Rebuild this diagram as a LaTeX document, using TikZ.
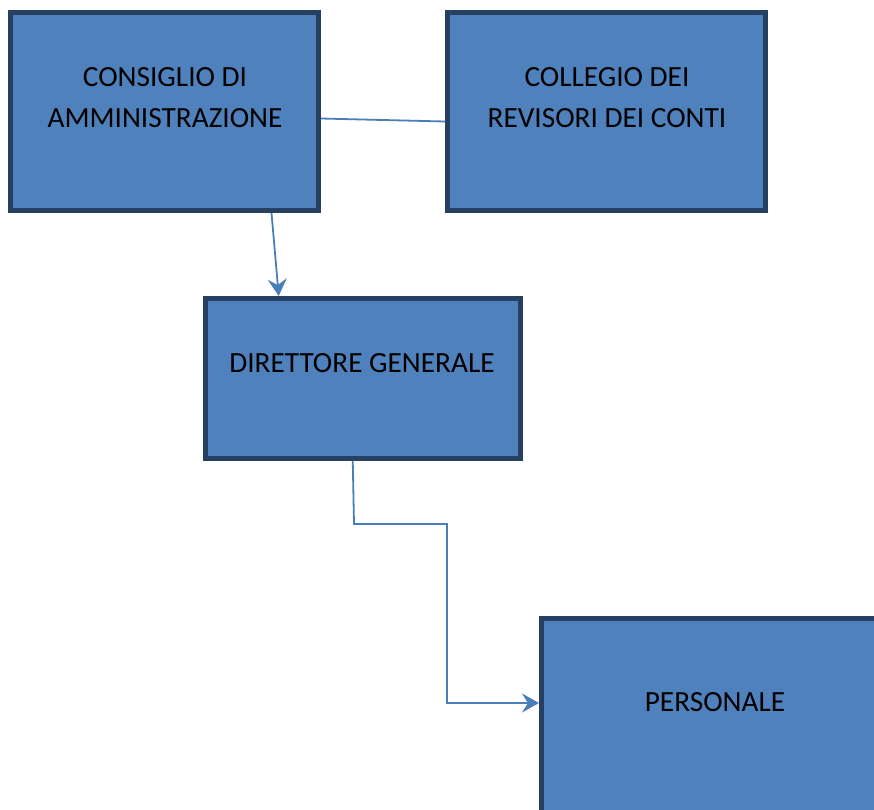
\documentclass[tikz,border=0pt]{standalone}
\usepackage{fontspec}
\setmainfont{Carlito}
\usetikzlibrary{arrows.meta}
\definecolor{boxfill}{HTML}{4F81BD}
\definecolor{boxline}{HTML}{254061}
\definecolor{linkcol}{HTML}{4A7EBB}
\begin{document}
\begin{tikzpicture}[x=1pt,y=-1pt,
    orgbox/.style={draw=boxline, fill=boxfill, line width=5pt},
    orgtext/.style={align=center, inner sep=0pt, font=\fontsize{29.3}{41}\selectfont},
    link/.style={draw=linkcol, line width=1.8pt},
    linkarrow/.style={link, -{Stealth[length=17pt,width=19pt,inset=6pt]}}]
  \useasboundingbox (0,0) rectangle (874,809);
  \path[orgbox] (10.5,12.5) rectangle (318.5,210.5) node[pos=0.5, inner sep=0pt, minimum width=308pt, minimum height=198pt] (cda) {};
  \node[orgtext] (cdaT) at (165,98) {CONSIGLIO DI\\AMMINISTRAZIONE};
  \path[orgbox] (447.5,12.5) rectangle (765.5,210.5) node[pos=0.5, inner sep=0pt, minimum width=318pt, minimum height=198pt] (crc) {};
  \node[orgtext] (crcT) at (607,98) {COLLEGIO DEI\\REVISORI DEI CONTI};
  \path[orgbox] (205.5,298.5) rectangle (520,458) node[pos=0.5, inner sep=0pt, minimum width=314.5pt, minimum height=159.5pt] (dg) {};
  \node[orgtext] (dgT) at (362,363) {DIRETTORE GENERALE};
  \path[orgbox] (541.5,618) rectangle (900,840) node[pos=0.5, inner sep=0pt, minimum width=358.5pt, minimum height=222pt] (pers) {};
  \node[orgtext] (persT) at (715,702) {PERSONALE};
  \coordinate (k1) at (354,524);
  \coordinate (k2) at (447,524);
  \coordinate (k3) at (447,703);
  \draw[link] ([yshift=-7pt]cda.east) -- ([yshift=-10pt]crc.west);
  \draw[linkarrow] ([xshift=107pt]cda.south) -- ([xshift=-84pt]dg.north);
  \draw[linkarrow] ([xshift=-10pt]dg.south) -- (k1) -- (k2) -- (k3) -- (k3 -| pers.west);
\end{tikzpicture}
\end{document}
